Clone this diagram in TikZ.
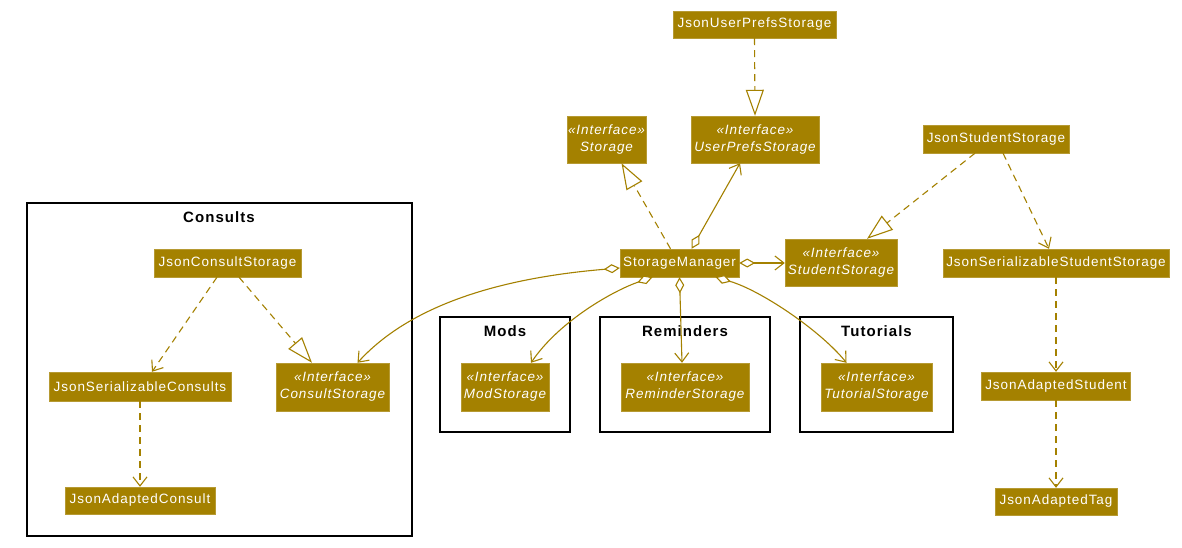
\documentclass[tikz,border=0pt]{standalone}
\usepackage{fontspec}
\usetikzlibrary{arrows.meta}
\newfontfamily\umlfont{Liberation Sans}[LetterSpace=7]
\definecolor{gold}{RGB}{164,129,0}
\tikzset{
  x=1pt, y=-1pt,
  cls/.style={fill=gold, draw=gold!80!white, text=white, inner sep=0pt, font=\umlfont\fontsize{13.5}{17}\selectfont, align=center},
  iface/.style={cls, font=\umlfont\itshape\fontsize{13.5}{17}\selectfont},
  frame/.style={draw=black, line width=1.6pt},
  ftitle/.style={font=\umlfont\bfseries\fontsize{15}{17}\selectfont, text=black, inner sep=0pt},
  link/.style={draw=gold, line width=1.1pt},
  vee/.tip={Straight Barb[length=9pt,width=14pt]},
  dep/.style={link, dash pattern=on 7pt off 5pt, -vee},
  real/.style={link, dash pattern=on 7pt off 5pt, -{Triangle[open,length=26pt,width=18pt,fill=white]}},
  agg/.style={link, {Diamond[open,length=16pt,width=9pt,fill=white]}-vee},
}
\begin{document}
\begin{tikzpicture}
\useasboundingbox (0,0) rectangle (1182,548);
\fill[white] (0,0) rectangle (1182,548);

% frames
\draw[frame] (27,203) rectangle (412,536);
\node[ftitle] (tconsults) at (219,217) {Consults};
\draw[frame] (440,317) rectangle (570,432);
\node[ftitle] (tmods) at (505,331) {Mods};
\draw[frame] (600,317) rectangle (770,432);
\node[ftitle] (treminders) at (685,331) {Reminders};
\draw[frame] (800,317) rectangle (953,432);
\node[ftitle] (ttutorials) at (876.5,331) {Tutorials};

% classes
\node[cls, minimum width=163pt, minimum height=27pt] (jups) at (754.5,24.5) {JsonUserPrefsStorage};
\node[iface, minimum width=79pt, minimum height=47pt] (storage) at (606.5,139.5) {«Interface»\\Storage};
\node[iface, minimum width=128pt, minimum height=47pt] (ups) at (755,139.5) {«Interface»\\UserPrefsStorage};
\node[cls, minimum width=119pt, minimum height=28pt] (sm) at (679.5,263) {StorageManager};
\node[iface, minimum width=112pt, minimum height=47pt] (ss) at (841,262.5) {«Interface»\\StudentStorage};
\node[cls, minimum width=146pt, minimum height=28pt] (jss) at (996,139) {JsonStudentStorage};
\node[cls, minimum width=226pt, minimum height=28pt] (jsss) at (1056,263) {JsonSerializableStudentStorage};
\node[cls, minimum width=149pt, minimum height=28pt] (jas) at (1056,386) {JsonAdaptedStudent};
\node[cls, minimum width=122pt, minimum height=27pt] (jat) at (1056,501.5) {JsonAdaptedTag};
\node[cls, minimum width=147pt, minimum height=28pt] (jcs) at (227.5,263) {JsonConsultStorage};
\node[cls, minimum width=182pt, minimum height=29pt] (jsc) at (140,386.5) {JsonSerializableConsults};
\node[iface, minimum width=113pt, minimum height=48pt] (cs) at (332.5,387) {«Interface»\\ConsultStorage};
\node[cls, minimum width=150pt, minimum height=27pt] (jac) at (140,500.5) {JsonAdaptedConsult};
\node[iface, minimum width=88pt, minimum height=48pt] (ms) at (505,387) {«Interface»\\ModStorage};
\node[iface, minimum width=128pt, minimum height=48pt] (rs) at (685,387) {«Interface»\\ReminderStorage};
\node[iface, minimum width=111pt, minimum height=48pt] (ts) at (876.5,387) {«Interface»\\TutorialStorage};

% connectors
\draw[real] (jups.south) -- (ups.north);
\draw[real] ([xshift=-9pt]sm.north) -- ([xshift=15pt]storage.south);
\draw[agg] ([xshift=12pt]sm.north) -- ([xshift=-15pt]ups.south);
\draw[agg] (sm.east) -- (ss.west |- sm.east);
\draw[real] ([xshift=-21pt]jss.south) -- ([xshift=26pt]ss.north);
\draw[dep] ([xshift=7pt]jss.south) -- ([xshift=-7pt]jsss.north);
\draw[dep] (jsss.south) -- (jas.north);
\draw[dep] (jas.south) -- (jat.north);
\draw[dep] ([xshift=-10.5pt]jcs.south) -- ([xshift=12pt]jsc.north);
\draw[real] ([xshift=11.5pt]jcs.south) -- ([xshift=-20.5pt]cs.north);
\draw[dep] (jsc.south) -- (jac.north);
\draw[agg] ([yshift=-5pt]sm.west) .. controls (500,278) and (410,305) .. ([xshift=25pt]cs.north);
\draw[agg] ([xshift=-27pt]sm.south) .. controls (615,290) and (560,320) .. ([xshift=26pt]ms.north);
\draw[agg] (sm.south) -- ([xshift=-3pt]rs.north);
\draw[agg] ([xshift=36pt]sm.south) .. controls (760,290) and (820,330) .. ([xshift=-30pt]ts.north);
\end{tikzpicture}
\end{document}
